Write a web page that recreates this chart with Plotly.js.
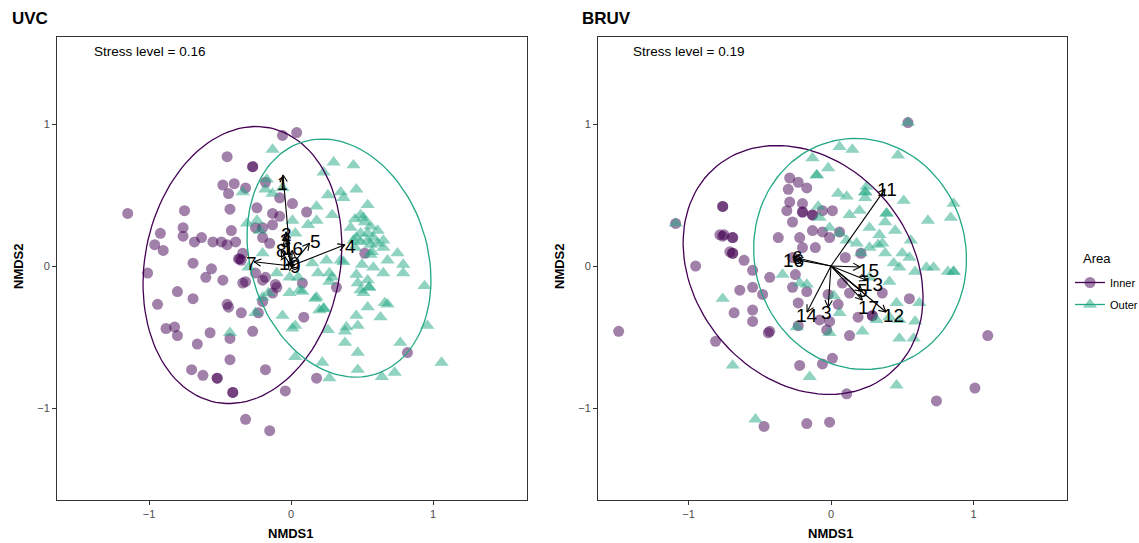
<!DOCTYPE html>
<html>
<head>
<meta charset="utf-8">
<script src="https://cdn.plot.ly/plotly-3.0.1.min.js"></script>
<style>html,body{margin:0;padding:0;background:#fff;}#chart{width:1139px;height:543px;}</style>
</head>
<body>
<div id="chart"></div>
<script>
// ---------------- DATA ----------------
const groups = ["Inner", "Outer"];
const legendTitle = "Area";
const tickVals = [-1, 0, 1];
const tickLabels = ["\u22121", "0", "1"];
const panelTitles = ["UVC", "BRUV"];
const stressLabels = ["Stress level = 0.16", "Stress level = 0.19"];

// UVC site scores
const uvcInnerX = [-1.15,-0.45,-0.27,-0.27,-0.06,0.04,-0.48,-0.40,-0.44,-0.32,-0.43,-0.75,-0.76,-0.76,-0.92,-0.96,-0.90,-0.68,-0.63,-0.55,-0.49,-0.45,-0.39,-0.42,-0.24,-0.25,-0.20,-0.15,-0.13,-0.08,-0.13,-0.37,-0.36,-0.35,-0.69,-1.01,-0.56,-0.60,-0.48,-0.32,-0.25,-0.18,-0.11,-0.80,-0.69,-0.94,-0.45,-0.44,-0.35,-0.23,-0.20,0.01,0.11,-0.18,-0.08,-0.20,-0.34,0.08,0.32,0.52,0.09,-0.88,-0.82,-0.80,-0.57,-0.66,-0.43,-0.27,-0.43,-0.70,-0.62,-0.52,-0.52,-0.18,-0.41,-0.41,-0.04,0.18,0.82,-0.32,-0.15,-0.20,-0.10,-0.13,-0.34];
const uvcInnerY = [0.37,0.77,0.70,0.70,0.92,0.94,0.57,0.58,0.51,0.55,0.40,0.39,0.27,0.21,0.23,0.15,0.11,0.17,0.20,0.17,0.17,0.15,0.17,0.25,0.41,0.27,0.20,0.16,0.37,0.35,0.29,0.05,0.05,0.04,0.02,-0.05,-0.02,-0.08,-0.10,-0.11,-0.05,-0.08,-0.13,-0.18,-0.23,-0.27,-0.27,-0.29,-0.33,-0.33,-0.25,0.44,0.38,0.59,0.48,0.27,0.09,-0.12,-0.15,0.09,-0.36,-0.44,-0.43,-0.49,-0.47,-0.55,-0.51,-0.46,-0.66,-0.73,-0.77,-0.79,-0.79,-0.73,-0.89,-0.89,-0.88,-0.79,-0.61,-1.08,-1.16,-0.10,-0.15,-0.19,-0.12];
const uvcOuterX = [-0.13,0.30,0.44,0.23,-0.17,-0.34,0.35,0.46,0.26,0.18,0.37,0.54,0.29,0.18,0.12,0.01,0.03,-0.13,-0.24,-0.22,0.42,0.45,0.51,0.56,0.61,0.49,0.44,0.54,0.58,0.61,0.65,0.75,0.79,0.57,0.68,0.58,0.50,0.35,0.25,0.19,0.15,0.29,0.46,0.54,0.65,0.79,-0.01,0.06,-0.01,-0.16,0.18,0.49,0.55,0.55,0.66,0.54,0.94,0.20,0.46,-0.06,-0.18,-0.06,-0.31,-0.20,-0.30,-0.10,-0.20,0.08,0.27,0.47,0.51,0.17,0.23,0.23,0.68,0.63,0.01,0.03,-0.25,0.26,0.47,0.38,0.38,0.77,0.96,-0.43,0.03,0.22,0.47,0.47,0.27,0.64,0.73,1.06,0.52,0.49,0.49,0.45,0.56,0.56,0.37,0.65,0.46,0.27,0.05,0.39,0.54];
const uvcOuterY = [0.82,0.73,0.71,0.66,0.61,0.52,0.52,0.54,0.50,0.42,0.48,0.43,0.36,0.32,0.29,0.32,0.23,0.51,0.32,0.25,0.27,0.33,0.34,0.28,0.25,0.23,0.18,0.18,0.20,0.16,0.13,0.09,0.01,0.10,0.04,-0.01,0.01,0.04,0.04,-0.05,0.02,-0.08,-0.06,-0.10,-0.05,-0.05,-0.08,-0.17,-0.19,-0.19,-0.22,-0.17,-0.15,-0.15,-0.26,-0.29,-0.14,-0.31,-0.35,-0.35,0.54,0.55,0.30,0.09,-0.01,-0.05,-0.22,-0.18,-0.11,-0.12,-0.19,-0.23,-0.30,-0.30,-0.27,-0.36,-0.44,-0.42,-0.33,-0.45,-0.42,-0.46,-0.54,-0.54,-0.42,-0.47,-0.64,-0.68,-0.61,-0.73,-0.79,-0.78,-0.75,-0.68,0.31,0.36,0.17,0.13,0.15,0.08,0.03,0.18,0.20,-0.05,-0.08,-0.43,0.23];

// BRUV site scores
const bruvInnerX = [-1.09,-0.76,-0.76,-0.78,-0.76,-0.75,-0.69,-0.69,-0.71,-0.69,-0.69,-0.95,-0.61,-0.55,-0.43,-0.64,-0.55,-0.48,-0.68,-0.55,-0.44,-0.81,-1.49,-0.29,-0.23,-0.17,-0.30,-0.29,-0.20,-0.31,-0.20,-0.20,-0.27,-0.13,-0.13,-0.06,0.01,-0.13,-0.06,0.06,-0.01,-0.37,-0.22,-0.20,-0.11,-0.27,0.10,0.21,-0.25,-0.27,-0.17,-0.23,-0.02,0.13,0.36,0.55,0.05,0.19,0.29,0.29,-0.01,-0.08,-0.43,0.13,-0.22,-0.06,0.01,0.11,-0.47,-0.17,-0.01,1.10,0.74,1.01,0.54,-0.55,-0.03,0.08,-0.23];
const bruvInnerY = [0.30,0.42,0.42,0.22,0.21,0.22,0.20,0.20,0.10,0.09,0.09,0.00,0.04,-0.03,-0.08,-0.17,-0.15,-0.20,-0.33,-0.39,-0.47,-0.53,-0.46,0.62,0.59,0.55,0.54,0.45,0.44,0.39,0.38,0.38,0.31,0.36,0.36,0.39,0.39,0.25,0.24,0.24,0.20,0.20,0.20,0.13,0.13,0.06,0.06,0.09,-0.06,-0.15,-0.18,-0.26,-0.20,-0.19,-0.19,-0.23,-0.27,-0.36,-0.35,-0.35,-0.39,-0.38,-0.46,-0.49,-0.70,-0.69,-0.65,-0.90,-1.13,-1.11,-1.10,-0.49,-0.95,-0.86,1.01,-0.31,-0.45,-0.12,-0.42];
const bruvOuterX = [-1.09,0.54,-0.13,-0.02,0.06,0.15,-0.10,-0.10,0.47,0.25,0.24,0.11,0.05,0.51,0.39,0.39,0.38,0.45,0.27,0.68,0.84,0.86,-0.09,-0.08,-0.01,0.06,0.11,0.18,0.34,0.33,0.38,0.48,0.59,0.55,0.56,0.67,0.72,0.82,0.86,0.86,0.21,0.41,0.62,0.59,0.48,0.32,0.06,0.02,-0.17,-0.34,-0.76,-0.24,0.27,0.24,0.24,0.27,0.44,0.50,-0.22,0.46,0.41,-0.01,0.22,0.48,0.58,-0.69,-0.15,0.46,-0.53,0.36,0.13,0.20];
const bruvOuterY = [0.30,1.01,0.76,0.69,0.84,0.82,0.64,0.64,0.78,0.56,0.48,0.49,0.51,0.46,0.37,0.37,0.31,0.25,0.27,0.32,0.34,0.44,0.42,0.34,0.27,0.23,0.18,0.16,0.22,0.15,0.09,-0.01,-0.04,0.06,0.18,-0.01,-0.01,-0.04,-0.04,-0.04,0.09,-0.11,-0.26,-0.39,-0.38,-0.38,-0.33,-0.21,-0.13,-0.06,-0.23,-0.43,-0.08,0.52,0.52,0.13,0.02,0.09,-0.12,-0.26,-0.36,-0.47,-0.46,-0.51,-0.51,-0.70,-0.78,-0.84,-1.08,0.16,0.36,0.39];

// 95% ellipses: centre, semi-axes, major-axis angle (deg from x axis)  [Inner, Outer]
const uvcEllCx = [-0.342, 0.338];
const uvcEllCy = [0.007, 0.056];
const uvcEllA = [0.985, 0.857];
const uvcEllB = [0.687, 0.623];
const uvcEllAngle = [79, 107.5];
const bruvEllCx = [-0.196, 0.204];
const bruvEllCy = [-0.028, 0.085];
const bruvEllA = [0.95, 0.818];
const bruvEllB = [0.758, 0.742];
const bruvEllAngle = [129.7, 104];

// species vectors (tips) and their label positions
const uvcVecLabel = ["1","2","3","4","5","16","8","7","10","9"];
const uvcVecX = [-0.056,-0.035,-0.04,0.38,0.13,0.01,-0.07,-0.26,-0.02,0.02];
const uvcVecY = [0.641,0.24,0.20,0.15,0.16,0.11,0.11,0.03,0.03,0.01];
const uvcLabX = [-0.06,-0.03,-0.04,0.42,0.17,0.01,-0.07,-0.275,-0.01,0.03];
const uvcLabY = [0.58,0.22,0.18,0.14,0.17,0.12,0.11,0.02,0.02,0.0];

const bruvVecLabel = ["11","16","6","15","13","5","17","12","14","3"];
const bruvVecX = [0.379,-0.267,-0.245,0.204,0.25,0.22,0.22,0.386,-0.168,-0.02];
const bruvVecY = [0.542,0.063,0.045,-0.007,-0.10,-0.18,-0.24,-0.324,-0.324,-0.29];
const bruvLabX = [0.39,-0.26,-0.235,0.26,0.29,0.22,0.26,0.435,-0.17,-0.03];
const bruvLabY = [0.54,0.04,0.06,-0.03,-0.13,-0.17,-0.29,-0.352,-0.35,-0.33];

// ---------------- STYLE ----------------
const FONT = "Liberation Sans, Arial, Helvetica, sans-serif";
const lineCol = ["#440154", "#22A884"];
const fillCol = ["rgba(68,1,84,0.5)", "rgba(34,168,132,0.5)"];
const symbols = ["circle", "triangle-up"];
const msize = [11, 12.5];

function ellipse(cx, cy, a, b, angDeg) {
  const t = angDeg * Math.PI / 180, xs = [], ys = [];
  for (let i = 0; i <= 120; i++) {
    const u = 2 * Math.PI * i / 120;
    const ex = a * Math.cos(u), ey = b * Math.sin(u);
    xs.push(cx + ex * Math.cos(t) - ey * Math.sin(t));
    ys.push(cy + ex * Math.sin(t) + ey * Math.cos(t));
  }
  return [xs, ys];
}

function arrows(vx, vy, xa, ya) {
  const xs = [], ys = [], L = 0.055, h = 28 * Math.PI / 180;
  for (let i = 0; i < vx.length; i++) {
    xs.push(0, vx[i], null); ys.push(0, vy[i], null);
    const ang = Math.atan2(vy[i], vx[i]) + Math.PI;
    xs.push(vx[i] + L * Math.cos(ang + h), vx[i], vx[i] + L * Math.cos(ang - h), null);
    ys.push(vy[i] + L * Math.sin(ang + h), vy[i], vy[i] + L * Math.sin(ang - h), null);
  }
  return {x: xs, y: ys, xaxis: xa, yaxis: ya, mode: "lines", line: {color: "#000", width: 1.1},
          hoverinfo: "skip", showlegend: false, type: "scatter"};
}

const traces = [];
const panels = [
  {ix: [uvcInnerX, uvcOuterX], iy: [uvcInnerY, uvcOuterY], ecx: uvcEllCx, ecy: uvcEllCy, ea: uvcEllA, eb: uvcEllB, eang: uvcEllAngle,
   vx: uvcVecX, vy: uvcVecY, lx: uvcLabX, ly: uvcLabY, lab: uvcVecLabel, xa: "x", ya: "y"},
  {ix: [bruvInnerX, bruvOuterX], iy: [bruvInnerY, bruvOuterY], ecx: bruvEllCx, ecy: bruvEllCy, ea: bruvEllA, eb: bruvEllB, eang: bruvEllAngle,
   vx: bruvVecX, vy: bruvVecY, lx: bruvLabX, ly: bruvLabY, lab: bruvVecLabel, xa: "x2", ya: "y2"}
];

const annotations = [];
panels.forEach((p, pi) => {
  for (let g = 0; g < 2; g++) {
    traces.push({type: "scatter", mode: "markers", x: p.ix[g], y: p.iy[g], xaxis: p.xa, yaxis: p.ya,
      marker: {symbol: symbols[g], size: msize[g], color: fillCol[g], line: {width: 0}},
      showlegend: false, hoverinfo: "skip"});
  }
  for (let g = 0; g < 2; g++) {
    const e = ellipse(p.ecx[g], p.ecy[g], p.ea[g], p.eb[g], p.eang[g]);
    traces.push({type: "scatter", mode: "lines", x: e[0], y: e[1], xaxis: p.xa, yaxis: p.ya,
      line: {color: lineCol[g], width: 1.3}, showlegend: false, hoverinfo: "skip"});
  }
  traces.push(arrows(p.vx, p.vy, p.xa, p.ya));
  p.lab.forEach((t, i) => {
    annotations.push({xref: p.xa, yref: p.ya, x: p.lx[i], y: p.ly[i], text: t, showarrow: false,
      font: {family: FONT, size: 19, color: "#000"}, xanchor: "center", yanchor: "middle"});
  });
  annotations.push({xref: p.xa, yref: p.ya, x: -1.40, y: 1.514, text: stressLabels[pi], showarrow: false,
    xanchor: "left", yanchor: "middle", font: {family: FONT, size: 13.5, color: "#000"}});
});

// legend-only traces
for (let g = 0; g < 2; g++) {
  traces.push({type: "scatter", mode: "lines+markers", x: [null], y: [null], name: groups[g], legendgroup: groups[g],
    marker: {symbol: symbols[g], size: msize[g], color: fillCol[g], line: {width: 0}},
    line: {color: lineCol[g], width: 1.3}, showlegend: true});
}

// titles
annotations.push({xref: "paper", yref: "paper", x: 10/1139, y: 1 - 18/543, text: "<b>" + panelTitles[0] + "</b>", showarrow: false,
  xanchor: "left", yanchor: "middle", font: {family: FONT, size: 17, color: "#000"}});
annotations.push({xref: "paper", yref: "paper", x: 580/1139, y: 1 - 18/543, text: "<b>" + panelTitles[1] + "</b>", showarrow: false,
  xanchor: "left", yanchor: "middle", font: {family: FONT, size: 17, color: "#000"}});
[[291, 533], [831, 533]].forEach(c => annotations.push({xref: "paper", yref: "paper", x: c[0]/1139, y: 1 - c[1]/543,
  text: "<b>NMDS1</b>", showarrow: false, xanchor: "center", yanchor: "middle", font: {family: FONT, size: 13, color: "#000"}}));
[[18, 266], [559, 266]].forEach(c => annotations.push({xref: "paper", yref: "paper", x: c[0]/1139, y: 1 - c[1]/543,
  text: "<b>NMDS2</b>", showarrow: false, textangle: -90, xanchor: "center", yanchor: "middle", font: {family: FONT, size: 13, color: "#000"}}));
// legend title
annotations.push({xref: "paper", yref: "paper", x: 1081/1139, y: 1 - 258/543, text: legendTitle, showarrow: false,
  xanchor: "left", yanchor: "middle", font: {family: FONT, size: 13, color: "#000"}});

function axis(dom, range, anchor) {
  return {domain: dom, range: range, anchor: anchor, tickvals: tickVals, ticktext: tickLabels,
    ticks: "outside", ticklen: 4, tickwidth: 1, tickcolor: "#333", showline: true, linecolor: "#333", linewidth: 1,
    mirror: true, showgrid: false, zeroline: false, tickfont: {family: FONT, size: 11, color: "#4d4d4d"}, fixedrange: true};
}
const yDom = [43/543, 506/543];
const yRange = [-1.648, 1.613];
const layout = {
  width: 1139, height: 543, margin: {l: 0, r: 0, t: 0, b: 0, autoexpand: false},
  paper_bgcolor: "#fff", plot_bgcolor: "#fff", font: {family: FONT},
  xaxis: axis([57/1139, 527/1139], [-1.648, 1.662], "y"),
  yaxis: axis(yDom, yRange, "x"),
  xaxis2: axis([598/1139, 1067/1139], [-1.635, 1.656], "y2"),
  yaxis2: axis(yDom, yRange, "x2"),
  showlegend: true,
  legend: {x: 1070/1139, xanchor: "left", y: 1 - 268/543, yanchor: "top", bgcolor: "rgba(0,0,0,0)",
    font: {family: FONT, size: 11, color: "#000"}, tracegroupgap: 3, itemwidth: 30},
  annotations: annotations
};
Plotly.newPlot("chart", traces, layout, {staticPlot: true, displayModeBar: false});
</script>
</body>
</html>
